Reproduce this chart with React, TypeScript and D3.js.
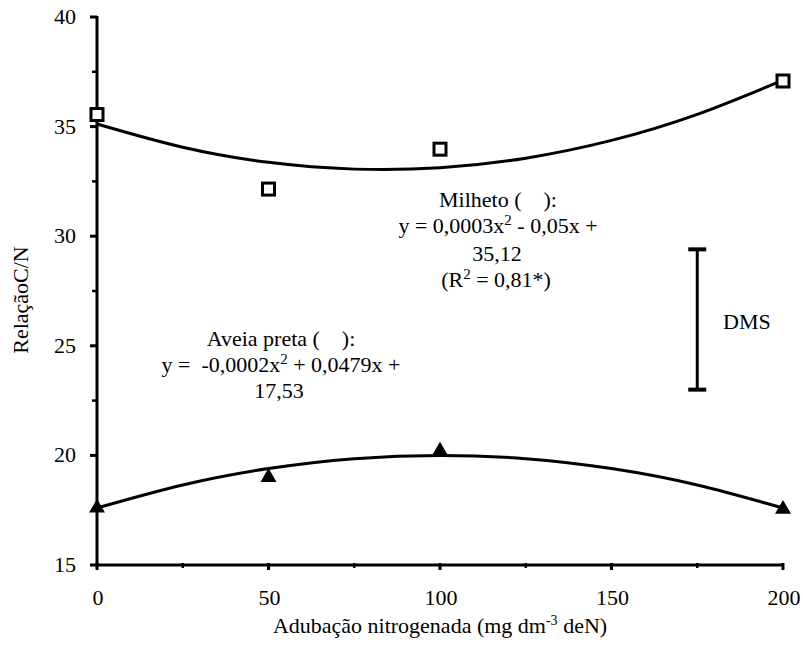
import React from "react";
import * as d3 from "d3";

// observed means
const doses = [0, 50, 100, 200];
const milheto = [35.55, 32.15, 33.97, 37.08];
const aveia = [17.6, 19.0, 20.2, 17.55];

// fitted curves
const curveX = [0, 25, 50, 75, 100, 125, 150, 175, 200];
const milhetoFit = [35.12, 34.06, 33.37, 33.06, 33.12, 33.56, 34.37, 35.56, 37.12];
const aveiaFit = [17.6, 18.65, 19.4, 19.85, 20.0, 19.85, 19.4, 18.65, 17.6];

// least significant difference bar
const dmsAt = [175];
const dmsRange = [23.0, 29.4];

const xTicks = [0, 50, 100, 150, 200];
const xMinor = [25, 75, 125, 175];
const yTicks = [15, 20, 25, 30, 35, 40];
const yMinor = [17.5, 22.5, 27.5, 32.5, 37.5];

const W = 803;
const H = 646;
const FONT = "Liberation Serif, Times New Roman, Tinos, Nimbus Roman, DejaVu Serif, serif";
const NB = "\u00a0";

export default function App() {
  const x = d3.scaleLinear().domain([0, 200]).range([97, 783]);
  const y = d3.scaleLinear().domain([15, 40]).range([565, 17]);

  const line = d3
    .line<number>()
    .x((_, i) => x(curveX[i]))
    .y((d) => y(d))
    .curve(d3.curveNatural);

  const tri = d3.symbol().type(d3.symbolTriangle).size(110)();

  return (
    <svg
      width={W}
      height={H}
      style={{ position: "absolute", left: 0, top: 0, background: "#fff" }}
    >
      <g fontFamily={FONT} fontSize={22}>
        {/* fitted curves */}
        <path d={line(milhetoFit) || ""} fill="none" stroke="#000" strokeWidth={3} />
        <path d={line(aveiaFit) || ""} fill="none" stroke="#000" strokeWidth={3} />

        {/* axes */}
        <line x1={x(0)} x2={x(0)} y1={y(40) - 1} y2={y(15) + 1.5} stroke="#000" strokeWidth={3} />
        <line x1={x(0) - 1.5} x2={x(200) + 1} y1={y(15)} y2={y(15)} stroke="#000" strokeWidth={3} />

        {yTicks.map((t) => (
          <g key={"y" + t}>
            <line x1={x(0) - 7} x2={x(0)} y1={y(t)} y2={y(t)} stroke="#000" strokeWidth={3} />
            <text x={76} y={y(t) + 7} textAnchor="end">
              {t}
            </text>
          </g>
        ))}
        {yMinor.map((t) => (
          <line key={"ym" + t} x1={x(0) - 5} x2={x(0)} y1={y(t)} y2={y(t)} stroke="#000" strokeWidth={2.5} />
        ))}
        {xTicks.map((t) => (
          <g key={"x" + t}>
            <line x1={x(t)} x2={x(t)} y1={y(15) - 2} y2={y(15) + 5} stroke="#000" strokeWidth={3} />
            <text x={x(t) + 1} y={605} textAnchor="middle">
              {t}
            </text>
          </g>
        ))}
        {xMinor.map((t) => (
          <line key={"xm" + t} x1={x(t)} x2={x(t)} y1={y(15) - 2} y2={y(15) + 3} stroke="#000" strokeWidth={2.5} />
        ))}

        {/* axis titles */}
        <text x={440} y={633} textAnchor="middle">
          Adubação nitrogenada (mg dm
          <tspan fontSize={14} dy={-8}>-3</tspan>
          <tspan dy={8}>{NB}deN)</tspan>
        </text>
        <text transform="translate(28,300) rotate(-90)" textAnchor="middle">
          RelaçãoC/N
        </text>

        {/* markers */}
        {doses.map((d, i) => (
          <rect
            key={"m" + d}
            x={x(d) - 6}
            y={y(milheto[i]) - 6}
            width={12}
            height={12}
            fill="#fff"
            stroke="#000"
            strokeWidth={3}
          />
        ))}
        {doses.map((d, i) => (
          <path key={"a" + d} d={tri || ""} transform={`translate(${x(d)},${y(aveia[i])})`} fill="#000" />
        ))}

        {/* DMS bar */}
        <line x1={x(dmsAt[0])} x2={x(dmsAt[0])} y1={y(dmsRange[1])} y2={y(dmsRange[0])} stroke="#000" strokeWidth={3} />
        <line x1={x(dmsAt[0]) - 9} x2={x(dmsAt[0]) + 9} y1={y(dmsRange[1])} y2={y(dmsRange[1])} stroke="#000" strokeWidth={4} />
        <line x1={x(dmsAt[0]) - 9} x2={x(dmsAt[0]) + 9} y1={y(dmsRange[0])} y2={y(dmsRange[0])} stroke="#000" strokeWidth={4} />
        <text x={723} y={329}>DMS</text>

        {/* equations */}
        <g textAnchor="middle">
          <text x={498} y={207}>{`Milheto (${NB}${NB}${NB}${NB}):`}</text>
          <text x={498} y={233}>
            y = 0,0003x<tspan fontSize={15} dy={-8}>2</tspan>
            <tspan dy={8}> - 0,05x +</tspan>
          </text>
          <text x={497} y={261}>35,12</text>
          <text x={496} y={287}>
            (R<tspan fontSize={15} dy={-8}>2</tspan>
            <tspan dy={8}> = 0,81*)</tspan>
          </text>

          <text x={281} y={346}>{`Aveia preta (${NB}${NB}${NB}${NB}):`}</text>
          <text x={281} y={372}>
            {`y =${NB} -0,0002x`}
            <tspan fontSize={15} dy={-8}>2</tspan>
            <tspan dy={8}> + 0,0479x +</tspan>
          </text>
          <text x={279} y={398}>17,53</text>
        </g>
      </g>
    </svg>
  );
}
